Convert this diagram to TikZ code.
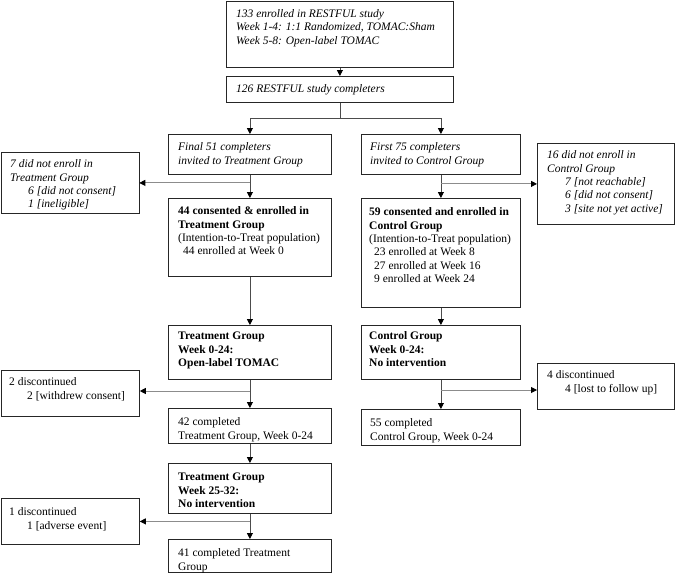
\documentclass[tikz,border=0pt]{standalone}
\usepackage{fontspec}
\setmainfont{Liberation Serif}
\usetikzlibrary{arrows.meta,calc}
\newcommand\firstln{\rule{0pt}{8.5pt}}
\tikzset{
  x=1pt, y=-1pt,
  box/.style={draw=black!85, line width=0.8pt, inner sep=0pt, anchor=north west},
  txt/.style={anchor=north west, inner sep=0pt, align=left, font=\fontsize{11.5}{13.4}\selectfont},
  conn/.style={draw=black!70, line width=0.8pt},
  side/.style={draw=black!45, line width=0.9pt},
  tip/.style={-{Triangle[length=6pt,width=6pt,color=black]}}
}
\begin{document}
\begin{tikzpicture}
\useasboundingbox (0,0) rectangle (675,573);
% boxes
\node[box, minimum width=227pt, minimum height=66.5pt] (A) at (226,0.5) {};
\node[box, minimum width=227pt, minimum height=26pt] (B) at (226,76) {};
\node[box, minimum width=163pt, minimum height=40pt] (C) at (168,134) {};
\node[box, minimum width=159pt, minimum height=40pt] (D) at (361,134) {};
\node[box, minimum width=138pt, minimum height=61pt] (T1) at (0.5,152) {};
\node[box, minimum width=137pt, minimum height=81pt] (E) at (537,143) {};
\node[box, minimum width=163pt, minimum height=78pt] (F) at (168,198) {};
\node[box, minimum width=159pt, minimum height=109pt] (H) at (361,198) {};
\node[box, minimum width=163pt, minimum height=54pt] (G) at (168,325) {};
\node[box, minimum width=159pt, minimum height=54pt] (I) at (361,325) {};
\node[box, minimum width=138.5pt, minimum height=46pt] (dtwo) at (0.5,370) {};
\node[box, minimum width=163pt, minimum height=35pt] (J) at (168,408) {};
\node[box, minimum width=137pt, minimum height=46pt] (dfour) at (537,363) {};
\node[box, minimum width=159pt, minimum height=36pt] (M) at (361,409) {};
\node[box, minimum width=163pt, minimum height=50pt] (K) at (168,463) {};
\node[box, minimum width=138.5pt, minimum height=46pt] (done) at (0.5,498) {};
\node[box, minimum width=163pt, minimum height=33pt] (L) at (168,539) {};
% texts
\node[txt] (tA) at (236,8.5) {\firstln\itshape 133 enrolled in RESTFUL study\\ \itshape Week 1-4: 1:1 Randomized, TOMAC:Sham\\ \itshape Week 5-8: Open-label TOMAC};
\node[txt] (tB) at (236,84) {\firstln\itshape 126 RESTFUL study completers};
\node[txt] (tC) at (178,142) {\firstln\itshape Final 51 completers\\ \itshape invited to Treatment Group};
\node[txt] (tD) at (370,142) {\firstln\itshape First 75 completers\\ \itshape invited to Control Group};
\node[txt] (tT1) at (10,159) {\firstln\itshape 7 did not enroll in\\ \itshape Treatment Group\\ \hspace*{18pt}\itshape 6 [did not consent]\\ \hspace*{18pt}\itshape 1 [ineligible]};
\node[txt] (tE) at (547,150) {\firstln\itshape 16 did not enroll in\\ \itshape Control Group\\ \hspace*{18pt}\itshape 7 [not reachable]\\ \hspace*{18pt}\itshape 6 [did not consent]\\ \hspace*{18pt}\itshape 3 [site not yet active]};
\node[txt] (tF) at (178,206) {\firstln\bfseries 44 consented \& enrolled in\\ \bfseries Treatment Group\\ (Intention-to-Treat population)\\ \hspace*{5pt}44 enrolled at Week 0};
\node[txt] (tH) at (369,207) {\firstln\bfseries 59 consented and enrolled in\\ \bfseries Control Group\\ (Intention-to-Treat population)\\ \hspace*{5pt}23 enrolled at Week 8\\ \hspace*{5pt}27 enrolled at Week 16\\ \hspace*{5pt}9 enrolled at Week 24};
\node[txt] (tG) at (178,331) {\firstln\bfseries Treatment Group\\ \bfseries Week 0-24:\\ \bfseries Open-label TOMAC};
\node[txt] (tI) at (369,331) {\firstln\bfseries Control Group\\ \bfseries Week 0-24:\\ \bfseries No intervention};
\node[txt] (tdtwo) at (9,377) {\firstln 2 discontinued\\ \hspace*{18pt}2 [withdrew consent]};
\node[txt] (tJ) at (178,417) {\firstln 42 completed\\ Treatment Group, Week 0-24};
\node[txt] (tdfour) at (547,370) {\firstln 4 discontinued\\ \hspace*{18pt}4 [lost to follow up]};
\node[txt] (tM) at (370,418) {\firstln 55 completed\\ Control Group, Week 0-24};
\node[txt] (tK) at (178,472) {\firstln\bfseries Treatment Group\\ \bfseries Week 25-32:\\ \bfseries No intervention};
\node[txt] (tdone) at (9,507) {\firstln 1 discontinued\\ \hspace*{18pt}1 [adverse event]};
\node[txt] (tL) at (178,548) {\firstln 41 completed Treatment\\ Group};
% connectors
\draw[conn, tip] (A.south) -- (B.north);
\coordinate (br) at ($(B.south)+(0,16)$);
\draw[conn] (B.south) -- (br);
\draw[conn, tip] (br) -| (C.north);
\draw[conn, tip] (br) -| (D.north);
\draw[conn, tip] (C.south) -- (F.north);
\draw[side, tip] (C.south |- T1.east) -- (T1.east);
\draw[conn, tip] (D.south) -- (H.north);
\draw[side, tip] (D.south |- E.west) -- (E.west);
\draw[conn, tip] (F.south) -- (G.north);
\draw[conn, tip] (H.south) -- (I.north);
\draw[conn, tip] (G.south) -- (J.north);
\coordinate (s2) at (G.south |- 0,391);
\draw[side, tip] (s2) -- (dtwo.east |- s2);
\draw[conn, tip] (I.south) -- (M.north);
\coordinate (s4) at (I.south |- 0,390);
\draw[side, tip] (s4) -- (dfour.west |- s4);
\draw[conn, tip] (J.south) -- (K.north);
\draw[conn, tip] (K.south) -- (L.north);
\draw[side, tip] (K.south |- done.east) -- (done.east);
\end{tikzpicture}
\end{document}
